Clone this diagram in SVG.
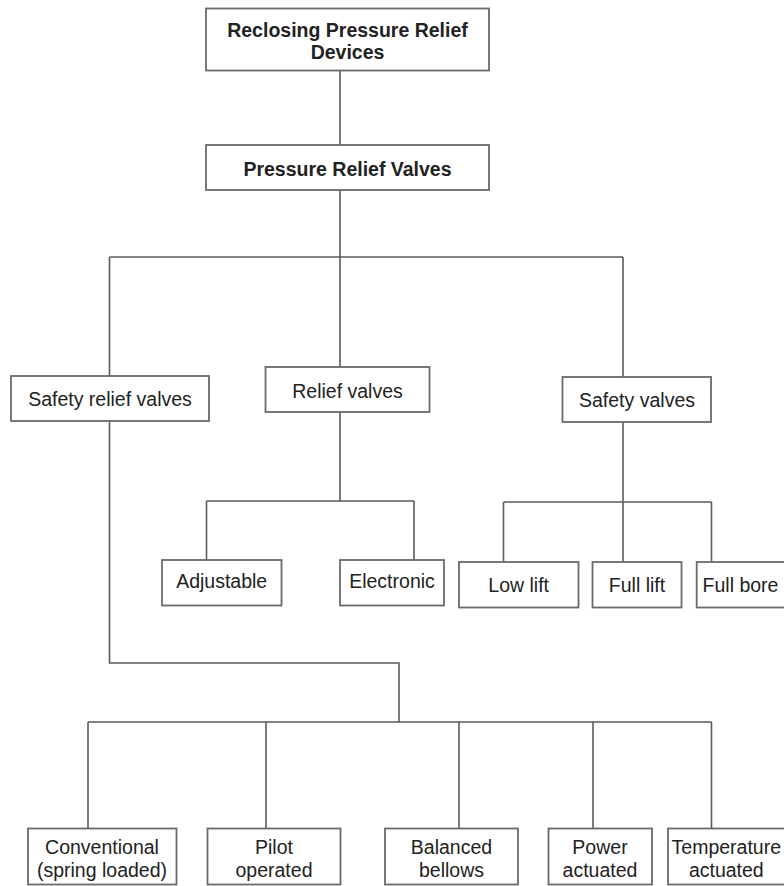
<svg xmlns="http://www.w3.org/2000/svg" width="784" height="886" viewBox="0 0 784 886">
<style>
.box{fill:#fff;stroke:#6a6a6a;stroke-width:1.8}
.t{font-family:"Liberation Sans",Arial,sans-serif;font-size:19.5px;fill:#222;text-anchor:middle}
.b{font-weight:bold}
.c{fill:none;stroke:#5a5a5a;stroke-width:1.6}
</style>
<rect width="784" height="886" fill="#fff"/>
<g id="connectors" class="c">
<path d="M340 70.5V145"/>
<path d="M340 190V367"/>
<path d="M109.5 257H623"/>
<path d="M109.5 257V376"/>
<path d="M623 257V377"/>
<path d="M109.5 421V663H399V722"/>
<path d="M340 412V501"/>
<path d="M206.5 501H414"/>
<path d="M206.5 501V560"/>
<path d="M414 501V560"/>
<path d="M623 422V562"/>
<path d="M503.5 502H711.5"/>
<path d="M503.5 502V562"/>
<path d="M711.5 502V562"/>
<path d="M88 722H711.5"/>
<path d="M88 722V828.5"/>
<path d="M266 722V828.5"/>
<path d="M459 722V828.5"/>
<path d="M593 722V828.5"/>
<path d="M711.5 722V828.5"/>
</g>
<g id="n-reclosing"><rect class="box" x="206" y="8.5" width="283" height="62"/><text class="t b" x="347.5" y="37">Reclosing Pressure Relief</text><text class="t b" x="347.5" y="58.5">Devices</text></g>
<g id="n-prv"><rect class="box" x="206" y="145" width="283" height="45"/><text class="t b" x="347.5" y="176">Pressure Relief Valves</text></g>
<g id="n-srv"><rect class="box" x="11" y="376" width="198" height="45"/><text class="t" x="110" y="405.5">Safety relief valves</text></g>
<g id="n-rv"><rect class="box" x="265.5" y="367" width="164" height="45"/><text class="t" x="347.5" y="398">Relief valves</text></g>
<g id="n-sv"><rect class="box" x="562.5" y="377" width="148.5" height="45"/><text class="t" x="637" y="407">Safety valves</text></g>
<g id="n-adj"><rect class="box" x="162" y="560" width="119.5" height="45.5"/><text class="t" x="221.7" y="588">Adjustable</text></g>
<g id="n-elec"><rect class="box" x="340" y="560" width="104" height="45.5"/><text class="t" x="392" y="588">Electronic</text></g>
<g id="n-low"><rect class="box" x="459" y="562" width="119.5" height="45.5"/><text class="t" x="518.7" y="592">Low lift</text></g>
<g id="n-full"><rect class="box" x="592.5" y="562" width="89" height="45.5"/><text class="t" x="637" y="592">Full lift</text></g>
<g id="n-bore"><rect class="box" x="696.7" y="562" width="92" height="45.5"/><text class="t" x="740.5" y="592">Full bore</text></g>
<g id="n-conv"><rect class="box" x="28" y="828.5" width="148.5" height="56"/><text class="t" x="102" y="854">Conventional</text><text class="t" x="102" y="877">(spring loaded)</text></g>
<g id="n-pilot"><rect class="box" x="207.5" y="828.5" width="133" height="56"/><text class="t" x="274" y="854">Pilot</text><text class="t" x="274" y="877">operated</text></g>
<g id="n-bal"><rect class="box" x="385" y="828.5" width="133" height="56"/><text class="t" x="451.5" y="854">Balanced</text><text class="t" x="451.5" y="877">bellows</text></g>
<g id="n-power"><rect class="box" x="548.5" y="828.5" width="103.5" height="56"/><text class="t" x="600" y="854">Power</text><text class="t" x="600" y="877">actuated</text></g>
<g id="n-temp"><rect class="box" x="668" y="828.5" width="120" height="56"/><text class="t" x="726.3" y="854">Temperature</text><text class="t" x="726.3" y="877">actuated</text></g>
</svg>
